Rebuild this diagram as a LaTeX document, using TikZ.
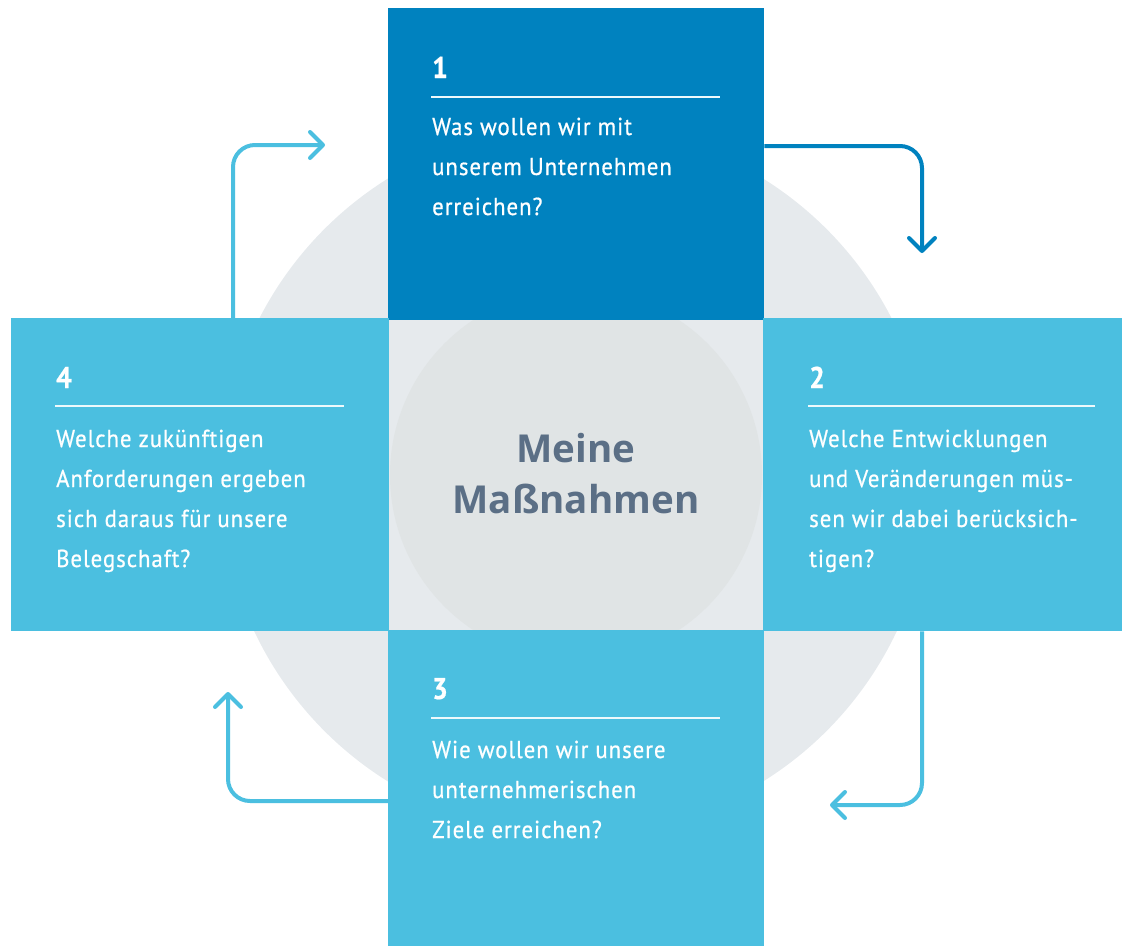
\documentclass[tikz,border=0pt]{standalone}
\usepackage{fontspec}
\setmainfont[FakeStretch=0.93,LetterSpace=4,FakeBold=0.7]{PT Sans}
\newfontfamily\numfont[FakeStretch=0.92,FakeBold=0.6]{PT Sans Bold}
\newfontfamily\centerfont{Open Sans}
\usetikzlibrary{arrows.meta}
\definecolor{dblue}{HTML}{0082BF}
\definecolor{lblue}{HTML}{4BBFE0}
\definecolor{cgrey}{HTML}{E6EAED}
\definecolor{igrey}{HTML}{E0E4E5}
\definecolor{ctext}{HTML}{5B6F86}
\tikzset{
  qbox/.style={draw=none, inner sep=0pt, anchor=north west},
  num/.style={anchor=base west, inner sep=0pt, text=white, font=\numfont\fontsize{30}{30}\selectfont},
  qtext/.style={anchor=base west, inner sep=0pt, text=white, align=left, font=\fontsize{24.5}{40}\selectfont},
  rule/.style={draw=white!90!lblue, line width=2pt},
  arr/.style={line width=4pt, rounded corners=22pt, -{Straight Barb[length=13pt,width=26pt,line cap=round,line join=round]}},
}
\begin{document}
\begin{tikzpicture}[x=1pt,y=-1pt]
\useasboundingbox (0,0) rectangle (1122,946);
% background circles and centre
\fill[cgrey] (575.5,480) circle (355);
\node[qbox, fill=cgrey, minimum width=374pt, minimum height=310pt] (ctr) at (389,320) {};
\fill[igrey] (576,475) circle (186);
\node[align=center, text=ctext, font=\centerfont\bfseries\fontsize{38.5}{51}\selectfont] (title) at (576,474) {Meine\\Maßnahmen};
% boxes
\node[qbox, fill=dblue, minimum width=376pt, minimum height=312pt] (b1) at (388,8) {};
\node[qbox, fill=lblue, minimum width=378pt, minimum height=313pt] (b4) at (11,318) {};
\node[qbox, fill=lblue, minimum width=359pt, minimum height=313pt] (b2) at (763,318) {};
\node[qbox, fill=lblue, minimum width=376pt, minimum height=316pt] (b3) at (388,630) {};
% box 1
\node[num] (n1) at (432,78) {1};
\coordinate (r1a) at (431,97); \coordinate (r1b) at (720,97);
\draw[rule] (r1a) -- (r1b);
\node[qtext] (t1) at (432,215) {Was wollen wir mit\\unserem Unternehmen\\erreichen?};
% box 2
\node[num] (n2) at (809,388) {2};
\coordinate (r2a) at (808,406); \coordinate (r2b) at (1095,406);
\draw[rule] (r2a) -- (r2b);
\node[qtext] (t2) at (809,567) {Welche Entwicklungen\\und Veränderungen müs-\\sen wir dabei berücksich-\\tigen?};
% box 3
\node[num] (n3) at (432,699) {3};
\coordinate (r3a) at (431,718); \coordinate (r3b) at (720,718);
\draw[rule] (r3a) -- (r3b);
\node[qtext] (t3) at (432,838) {Wie wollen wir unsere\\unternehmerischen\\Ziele erreichen?};
% box 4
\node[num] (n4) at (56,388) {4};
\coordinate (r4a) at (55,406); \coordinate (r4b) at (344,406);
\draw[rule] (r4a) -- (r4b);
\node[qtext] (t4) at (56,567) {Welche zukünftigen\\Anforderungen ergeben\\sich daraus für unsere\\Belegschaft?};
% arrows
\coordinate (a1e) at (325,145);
\coordinate (a2e) at (922,253);
\coordinate (a3e) at (830,805);
\coordinate (a4e) at (228,692);
\draw[arr, lblue] (233,318 |- b4.north) |- (a1e);
\draw[arr, dblue] (b1.east |- 0,146) -| (a2e);
\draw[arr, lblue] (922,631 |- b2.south) |- (a3e);
\draw[arr, lblue] (b3.west |- 0,801) -| (a4e);
\end{tikzpicture}
\end{document}
